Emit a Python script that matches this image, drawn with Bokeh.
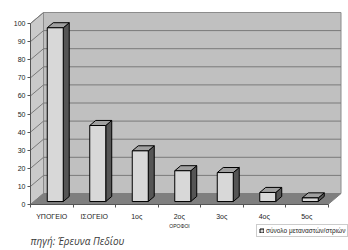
from bokeh.plotting import figure
from bokeh.models import (Range1d, LinearAxis, FixedTicker, ColumnDataSource,
                          Legend, LegendItem, Label)
from bokeh.embed import file_html
from bokeh.resources import INLINE

# ---- data ----
categories = ["ΥΠΟΓΕΙΟ", "ΙΣΟΓΕΙΟ", "1ος", "2ος", "3ος", "4ος", "5ος"]
counts = [96, 42, 28, 17, 16, 5, 2]
y_ticks = [0, 10, 20, 30, 40, 50, 60, 70, 80, 90, 100]
series_name = "σύνολο μεταναστών/στριών"
x_axis_title = "ΟΡΟΦΟΙ"
source_note = "πηγή: Έρευνα Πεδίου"

# ---- geometry / style ----
W, H = 348, 250
X0_PX, Y0_PX = 30, 204          # figure pixel of the data origin
CAT_PX, UNIT_PX = 42.5, 1.81    # pixels per category / per unit
DX, DY = 13 / CAT_PX, 11 / UNIT_PX   # 3D depth of the chart box
F0, F1 = 0.27, 0.73             # bar depth position (front/back fraction)
BW = 16 / CAT_PX                # bar width
FONT = "Liberation Sans"

N = len(categories)
YMAX = y_ticks[-1]

p = figure(width=W, height=H, output_backend="svg", toolbar_location=None,
           x_range=Range1d(-X0_PX / CAT_PX, (W - X0_PX) / CAT_PX),
           y_range=Range1d(-(H - Y0_PX) / UNIT_PX, Y0_PX / UNIT_PX),
           x_axis_location=None, y_axis_location=None, min_border=0)
p.grid.visible = False
p.outline_line_color = None
p.background_fill_color = "white"
p.border_fill_color = "white"

# back wall, side wall, floor
p.quad(left=[DX], right=[N + DX], bottom=[DY], top=[YMAX + DY],
       fill_color="#c0c0c0", line_color="#8c8c8c", line_width=1)
p.patch([0, DX, DX, 0], [0, DY, YMAX + DY, YMAX],
        fill_color="#cacaca", line_color="#8c8c8c", line_width=1)
p.patch([0, N, N + DX, DX], [0, 0, DY, DY],
        fill_color="#7f7f7f", line_color="#7f7f7f", line_width=1)

# gridlines on the walls
inner = y_ticks[1:-1]
p.segment(x0=[DX] * len(inner), y0=[t + DY for t in inner],
          x1=[N + DX] * len(inner), y1=[t + DY for t in inner],
          line_color="#7a7a7a", line_width=1)
side = y_ticks[1:]
p.segment(x0=[0] * len(side), y0=side, x1=[DX] * len(side),
          y1=[t + DY for t in side], line_color="#7a7a7a", line_width=1)

# bars
centers = [i + 0.5 for i in range(N)]
l0 = [c - BW / 2 + F0 * DX for c in centers]
r0 = [c + BW / 2 + F0 * DX for c in centers]
l1 = [c - BW / 2 + F1 * DX for c in centers]
r1 = [c + BW / 2 + F1 * DX for c in centers]
side_xs = [[a, b, b, a] for a, b in zip(r0, r1)]
side_ys = [[F0 * DY, F1 * DY, v + F1 * DY, v + F0 * DY] for v in counts]
top_xs = [[a, b, d, c] for a, b, c, d in zip(l0, r0, l1, r1)]
top_ys = [[v + F0 * DY, v + F0 * DY, v + F1 * DY, v + F1 * DY] for v in counts]

p.patches(xs=side_xs, ys=side_ys, fill_color="#555555",
          line_color="black", line_width=1)
p.patches(xs=top_xs, ys=top_ys, fill_color="#a0a0a0",
          line_color="black", line_width=1)
src = ColumnDataSource(dict(left=l0, right=r0, bottom=[F0 * DY] * N,
                            top=[v + F0 * DY for v in counts]))
front = p.quad(left="left", right="right", bottom="bottom", top="top",
               source=src, fill_color="#d8d8d8", line_color="black",
               line_width=1)

# axes
yaxis = LinearAxis(fixed_location=0, bounds=(0, YMAX),
                   ticker=FixedTicker(ticks=y_ticks))
yaxis.major_tick_in = 0
yaxis.major_tick_out = 3
yaxis.minor_tick_out = 0
yaxis.minor_tick_in = 0
yaxis.major_label_standoff = 2
yaxis.major_label_text_font = FONT
yaxis.major_label_text_font_size = "7px"
yaxis.major_label_text_color = "#222222"
yaxis.axis_line_color = "#555555"
yaxis.major_tick_line_color = "#555555"
p.add_layout(yaxis, "left")

xaxis = LinearAxis(fixed_location=0, bounds=(0, N),
                   ticker=FixedTicker(ticks=centers, minor_ticks=list(range(N + 1))),
                   major_label_overrides={c: n for c, n in zip(centers, categories)},
                   axis_label=x_axis_title)
xaxis.major_tick_in = 0
xaxis.major_tick_out = 0
xaxis.minor_tick_in = 0
xaxis.minor_tick_out = 3
xaxis.minor_tick_line_color = "#555555"
xaxis.axis_line_color = "#555555"
xaxis.major_label_standoff = 5
xaxis.major_label_text_font = FONT
xaxis.major_label_text_font_size = "7px"
xaxis.major_label_text_color = "#222222"
xaxis.axis_label_text_font = FONT
xaxis.axis_label_text_font_size = "5px"
xaxis.axis_label_text_font_style = "normal"
xaxis.axis_label_text_color = "#222222"
xaxis.axis_label_standoff = 0
p.add_layout(xaxis, "below")

# legend
legend = Legend(items=[LegendItem(label=series_name, renderers=[front])],
                location=(256, 13), orientation="vertical",
                label_text_font=FONT, label_text_font_size="6.5px",
                label_text_color="#222222", glyph_width=5, glyph_height=5,
                label_height=6, label_standoff=2, padding=2, margin=0,
                spacing=0, border_line_color="#999999",
                background_fill_color="white", background_fill_alpha=1)
p.add_layout(legend)

# source note
p.add_layout(Label(x=30, y=3, x_units="screen", y_units="screen",
                   text=source_note, text_font="Open Sans",
                   text_font_style="italic", text_font_size="10px",
                   text_color="#3a3a3a"))

open("out.html", "w").write(file_html(p, INLINE))
